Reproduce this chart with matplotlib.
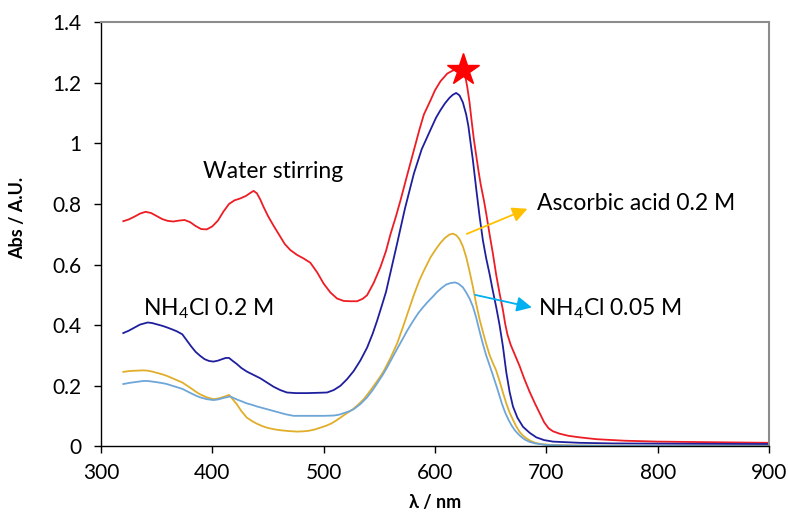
import matplotlib
matplotlib.use("Agg")
import matplotlib.pyplot as plt
import numpy as np

plt.rcParams['font.family'] = ['Lato', 'DejaVu Sans']
plt.rcParams['mathtext.fontset'] = 'custom'
plt.rcParams['mathtext.rm'] = 'Lato'
plt.rcParams['mathtext.it'] = 'Lato:italic'

# water stirring (red)
water_nm = [320, 325, 330, 335, 340, 345, 350, 355, 360, 365, 370, 375, 380, 385, 390,
            395, 400, 405, 410, 415, 420, 425, 430, 434, 437, 440, 443, 446, 450, 455,
            460, 465, 470, 476, 482, 488, 494, 500, 506, 512, 518, 524, 530, 535, 539,
            545, 551, 556, 560, 565, 569, 575, 581, 586, 590, 596, 600, 605, 611, 616,
            620, 623, 625.5, 627, 629, 631, 633, 635, 637, 639, 641, 644, 646, 649, 652,
            655, 658, 661, 663, 665, 668, 672, 676, 680, 685, 690, 694, 698, 702, 706,
            712, 720, 730, 745, 770, 800, 850, 900]
water_abs = [0.743, 0.749, 0.758, 0.768, 0.774, 0.770, 0.760, 0.750, 0.744, 0.742, 0.745,
             0.747, 0.740, 0.727, 0.717, 0.716, 0.726, 0.745, 0.775, 0.800, 0.812, 0.818,
             0.826, 0.836, 0.843, 0.835, 0.815, 0.790, 0.760, 0.728, 0.698, 0.668, 0.648,
             0.632, 0.620, 0.606, 0.575, 0.537, 0.508, 0.488, 0.480, 0.479, 0.479, 0.487,
             0.499, 0.540, 0.592, 0.645, 0.700, 0.760, 0.812, 0.895, 0.977, 1.045, 1.095,
             1.142, 1.175, 1.205, 1.230, 1.240, 1.245, 1.248, 1.243, 1.225, 1.185, 1.135,
             1.070, 1.010, 0.960, 0.910, 0.865, 0.810, 0.768, 0.700, 0.636, 0.565, 0.505,
             0.450, 0.405, 0.370, 0.335, 0.300, 0.265, 0.225, 0.180, 0.140, 0.110, 0.080,
             0.060, 0.050, 0.042, 0.035, 0.030, 0.024, 0.019, 0.016, 0.014, 0.012]

# NH4Cl 0.2 M (navy)
nh4_02_nm = [320, 325, 330, 335, 342, 346, 350, 355, 359, 364, 368, 373, 377, 381, 385,
             389, 393, 397, 401, 405, 408, 412, 415, 418, 422, 426, 431, 437, 443, 449,
             455, 461, 467, 475, 485, 495, 503, 509, 515, 521, 527, 533, 539, 544, 548,
             552, 556, 561, 566, 573, 581, 588, 596, 601, 605, 609, 613, 616, 619, 622,
             625, 628, 630, 632, 634, 637, 640, 643, 646, 649, 652, 655, 658, 661, 664,
             667, 670, 674, 679, 685, 691, 698, 706, 730, 760, 820, 900]
nh4_02_abs = [0.374, 0.382, 0.392, 0.402, 0.409, 0.407, 0.403, 0.398, 0.393, 0.386, 0.380,
              0.370, 0.350, 0.330, 0.312, 0.299, 0.288, 0.282, 0.280, 0.283, 0.287, 0.292,
              0.292, 0.283, 0.272, 0.259, 0.247, 0.236, 0.225, 0.211, 0.197, 0.186, 0.178,
              0.176, 0.176, 0.177, 0.178, 0.186, 0.200, 0.222, 0.249, 0.284, 0.326, 0.372,
              0.415, 0.462, 0.510, 0.590, 0.670, 0.785, 0.900, 0.980, 1.045, 1.085, 1.110,
              1.132, 1.150, 1.160, 1.166, 1.158, 1.135, 1.095, 1.056, 1.000, 0.945, 0.850,
              0.760, 0.680, 0.620, 0.569, 0.512, 0.459, 0.400, 0.330, 0.245, 0.180, 0.132,
              0.095, 0.065, 0.045, 0.030, 0.021, 0.016, 0.012, 0.010, 0.009, 0.008]

# ascorbic acid 0.2 M (gold)
asc_nm = [320, 326, 332, 338, 342, 346, 350, 355, 359, 366, 373, 380, 385, 389, 395, 401,
          405, 408, 412, 415, 418, 422, 426, 431, 436, 440, 445, 449, 455, 460, 468, 476,
          482, 487, 492, 497, 502, 507, 511, 515, 520, 526, 531, 536, 540, 545, 550, 554,
          560, 566, 571, 575, 581, 586, 590, 596, 601, 605, 609, 613, 616, 619, 622, 625,
          628, 631, 634, 637, 640, 643, 646, 649, 652, 655, 658, 661, 664, 667, 670, 673,
          676, 679, 682, 686, 690, 695, 705, 730, 800, 900]
asc_abs = [0.246, 0.249, 0.250, 0.251, 0.250, 0.247, 0.243, 0.238, 0.233, 0.222, 0.211,
           0.194, 0.181, 0.172, 0.162, 0.156, 0.158, 0.161, 0.166, 0.170, 0.157, 0.139,
           0.117, 0.095, 0.083, 0.075, 0.067, 0.062, 0.057, 0.054, 0.051, 0.049, 0.050,
           0.052, 0.056, 0.062, 0.068, 0.076, 0.085, 0.095, 0.108, 0.122, 0.138, 0.156,
           0.175, 0.200, 0.226, 0.249, 0.292, 0.340, 0.392, 0.435, 0.500, 0.548, 0.580,
           0.624, 0.652, 0.672, 0.688, 0.699, 0.702, 0.697, 0.684, 0.660, 0.625, 0.578,
           0.527, 0.470, 0.420, 0.378, 0.338, 0.302, 0.275, 0.250, 0.215, 0.178, 0.142,
           0.112, 0.088, 0.066, 0.048, 0.036, 0.027, 0.018, 0.012, 0.008, 0.005, 0.003,
           0.002, 0.002]

# NH4Cl 0.05 M (light blue)
nh4_005_nm = [320, 326, 332, 338, 342, 346, 350, 355, 359, 366, 373, 380, 385, 389, 395,
              401, 405, 410, 416, 419, 422, 427, 431, 436, 440, 445, 449, 455, 460, 466,
              473, 482, 491, 500, 509, 514, 518, 523, 527, 533, 539, 544, 548, 553, 557,
              562, 566, 571, 575, 580, 585, 589, 593, 598, 602, 606, 610, 614, 618, 621,
              625, 628, 631, 634, 637, 640, 643, 646, 649, 652, 656, 660, 663, 666, 669,
              672, 675, 678, 681, 685, 690, 700, 720, 760, 900]
nh4_005_abs = [0.206, 0.210, 0.213, 0.216, 0.216, 0.214, 0.212, 0.209, 0.206, 0.198, 0.190,
               0.177, 0.168, 0.162, 0.156, 0.153, 0.155, 0.160, 0.165, 0.160, 0.155, 0.148,
               0.142, 0.137, 0.132, 0.127, 0.123, 0.117, 0.112, 0.106, 0.101, 0.101, 0.101,
               0.101, 0.102, 0.105, 0.110, 0.116, 0.123, 0.140, 0.162, 0.186, 0.208, 0.236,
               0.261, 0.295, 0.322, 0.355, 0.382, 0.412, 0.440, 0.458, 0.475, 0.494, 0.510,
               0.523, 0.534, 0.539, 0.541, 0.537, 0.525, 0.508, 0.488, 0.462, 0.425, 0.380,
               0.338, 0.300, 0.268, 0.235, 0.190, 0.142, 0.112, 0.088, 0.068, 0.052, 0.040,
               0.030, 0.022, 0.015, 0.010, 0.005, 0.003, 0.002, 0.001]

fig = plt.figure(figsize=(7.88, 5.12), dpi=100)
ax = fig.add_axes([0.1282, 0.128, 0.8477, 0.829])

ax.plot(water_nm, water_abs, color='#EE1C24', lw=1.3)
ax.plot(nh4_02_nm, nh4_02_abs, color='#1F1F9E', lw=1.3)
ax.plot(asc_nm, asc_abs, color='#E0AE2A', lw=1.3)
ax.plot(nh4_005_nm, nh4_005_abs, color='#6FA6D8', lw=1.3)

# star on the red peak
ax.plot([625.5], [1.243], marker='*', color='#FF0000', markersize=24, mec='#FF0000')

ax.text(391.6, 0.886, "Water stirring", fontsize=16.5, va='baseline', ha='left')
ax.text(337.7, 0.431, r"NH$_4$Cl 0.2 M", fontsize=16.5, va='baseline', ha='left')
ax.text(691.6, 0.781, "Ascorbic acid 0.2 M", fontsize=16.5, va='baseline', ha='left')
ax.text(692.8, 0.431, r"NH$_4$Cl 0.05 M", fontsize=16.5, va='baseline', ha='left')

ax.annotate("", xy=(683, 0.784), xytext=(628.5, 0.701),
            arrowprops=dict(arrowstyle='-|>,head_length=0.9,head_width=0.45',
                            color='#FFC000', lw=1.3, shrinkA=0, shrinkB=0))
ax.annotate("", xy=(687, 0.4585), xytext=(636, 0.50),
            arrowprops=dict(arrowstyle='-|>,head_length=0.9,head_width=0.45',
                            color='#00B0F0', lw=1.3, shrinkA=0, shrinkB=0))

ax.set_xlim(300, 900)
ax.set_ylim(0, 1.4)
ax.set_xticks(np.arange(300, 901, 100))
ax.set_yticks(np.arange(0, 1.41, 0.2))
ax.set_yticklabels(["0", "0.2", "0.4", "0.6", "0.8", "1", "1.2", "1.4"])

ax.tick_params(axis='both', direction='out', length=5, width=1, labelsize=15)
ax.tick_params(axis='y', pad=9)
ax.tick_params(axis='x', pad=7)

for side in ['top', 'right']:
    ax.spines[side].set_color('#8C8C8C')
    ax.spines[side].set_linewidth(1.5)
for side in ['left', 'bottom']:
    ax.spines[side].set_color('black')
    ax.spines[side].set_linewidth(1)

ax.set_ylabel("Abs / A.U.", fontsize=13, fontweight='bold')
ax.yaxis.set_label_coords(-0.112, 0.538)
ax.set_xlabel("λ / nm", fontsize=13, fontweight='bold')
ax.xaxis.set_label_coords(0.5, -0.112)

fig.savefig("out.png", dpi=100)
